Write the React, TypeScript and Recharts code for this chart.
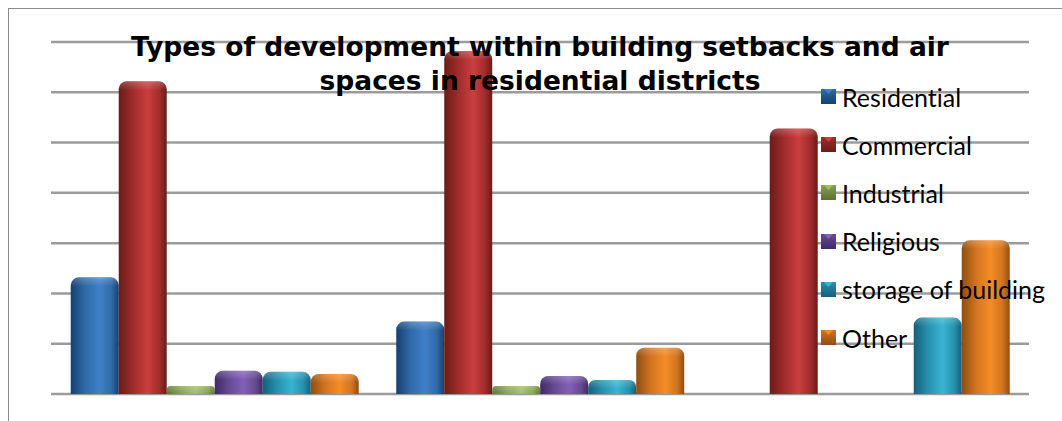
import React from "react";
import { BarChart, Bar, CartesianGrid, XAxis, YAxis, Rectangle } from "recharts";

const categories = ["Group A", "Group B", "Group C"];
const residential = [11.6, 7.2, 0];
const commercial = [31.1, 34.1, 26.4];
const industrial = [0.8, 0.8, 0];
const religious = [2.3, 1.8, 0];
const storage = [2.2, 1.4, 7.6];
const other = [2.0, 4.6, 15.3];
const yTicks = [0, 5, 10, 15, 20, 25, 30, 35];

const chartData = categories.map((name, i) => ({
  name,
  residential: residential[i],
  commercial: commercial[i],
  industrial: industrial[i],
  religious: religious[i],
  storage: storage[i],
  other: other[i],
}));

// dark edge, mid tone, highlight for each series
const seriesList = [
  { key: "residential", label: "Residential", dark: "#17406e", mid: "#2f6aa8", light: "#3f80c6" },
  { key: "commercial", label: "Commercial", dark: "#691c1b", mid: "#a02c2b", light: "#c93f3e" },
  { key: "industrial", label: "Industrial", dark: "#5b7230", mid: "#86a34c", light: "#a2c062" },
  { key: "religious", label: "Religious", dark: "#3f2a66", mid: "#654a92", light: "#8360b8" },
  { key: "storage", label: "storage of building", dark: "#14607a", mid: "#2690ae", light: "#38b4d2" },
  { key: "other", label: "Other", dark: "#8f4d12", mid: "#d2741f", light: "#f58c26" },
];

function CylinderBar(props: any) {
  const { x, y, width, height, seriesKey } = props;
  if (!height || height <= 0) return null;
  return (
    <g>
      <Rectangle
        x={x}
        y={y}
        width={width}
        height={height}
        radius={[8, 8, 0, 0]}
        fill={`url(#bar-${seriesKey})`}
      />
      {/* soft bevel along the top of the cylinder */}
      <Rectangle
        x={x}
        y={y}
        width={width}
        height={Math.min(height, 9)}
        radius={[8, 8, 0, 0]}
        fill="url(#bar-bevel)"
      />
    </g>
  );
}

// sits over the plot, the gridlines run behind the labels
function LegendList() {
  return (
    <div
      style={{
        position: "absolute",
        left: 812,
        top: 63.5,
        fontFamily: "Lato, sans-serif",
        fontVariantLigatures: "none",
        fontSize: 25,
        color: "#000",
      }}
    >
      {seriesList.map((s) => (
        <div
          key={s.key}
          style={{ height: 48.2, display: "flex", alignItems: "center", whiteSpace: "nowrap" }}
        >
          <svg width={15} height={15} style={{ marginRight: 6, flex: "none" }}>
            <rect width={15} height={15} fill={`url(#icon-${s.key})`} />
            <polygon points="3,0 12,0 7.5,5" fill={s.light} />
          </svg>
          <span>{s.label}</span>
        </div>
      ))}
    </div>
  );
}

export default function App() {
  return (
    <div
      style={{
        position: "absolute",
        left: 8,
        top: 8,
        width: 1054,
        height: 413,
        background: "#fff",
        borderLeft: "1px solid #8c8c8c",
        borderTop: "1px solid #8c8c8c",
        boxSizing: "border-box",
      }}
    >
      <BarChart
        width={1053}
        height={412}
        data={chartData}
        margin={{ top: 33, right: 33, bottom: 27, left: 42 }}
        barCategoryGap="5.6%"
        barGap={0}
      >
        <defs>
          {seriesList.map((s) => (
            <linearGradient key={s.key} id={`bar-${s.key}`} x1="0" y1="0" x2="1" y2="0">
              <stop offset="0%" stopColor={s.dark} />
              <stop offset="30%" stopColor={s.mid} />
              <stop offset="60%" stopColor={s.light} />
              <stop offset="85%" stopColor={s.mid} />
              <stop offset="100%" stopColor={s.dark} />
            </linearGradient>
          ))}
          {seriesList.map((s) => (
            <linearGradient key={s.key} id={`icon-${s.key}`} x1="0" y1="0" x2="0" y2="1">
              <stop offset="0%" stopColor={s.mid} />
              <stop offset="100%" stopColor={s.dark} />
            </linearGradient>
          ))}
          <linearGradient id="bar-bevel" x1="0" y1="0" x2="0" y2="1">
            <stop offset="0%" stopColor="#fff" stopOpacity={0.22} />
            <stop offset="100%" stopColor="#fff" stopOpacity={0} />
          </linearGradient>
        </defs>
        <CartesianGrid horizontal vertical={false} stroke="#9b9b9b" strokeWidth={2.5} />
        <XAxis dataKey="name" hide padding={{ left: 1.5, right: 0 }} />
        <YAxis hide domain={[0, 35]} ticks={yTicks} />
        {seriesList.map((s) => (
          <Bar
            key={s.key}
            dataKey={s.key}
            name={s.label}
            isAnimationActive={false}
            fill={s.mid}
            shape={(p: any) => <CylinderBar {...p} seriesKey={s.key} />}
          />
        ))}
      </BarChart>
      <LegendList />
      <div
        style={{
          position: "absolute",
          left: 0,
          top: 21,
          width: 1062,
          textAlign: "center",
          fontFamily: "'DejaVu Sans', sans-serif",
          fontWeight: 700,
          fontSize: 26.5,
          lineHeight: "34px",
          color: "#000",
        }}
      >
        Types of development within building setbacks and air
        <br />
        spaces in residential districts
      </div>
    </div>
  );
}
